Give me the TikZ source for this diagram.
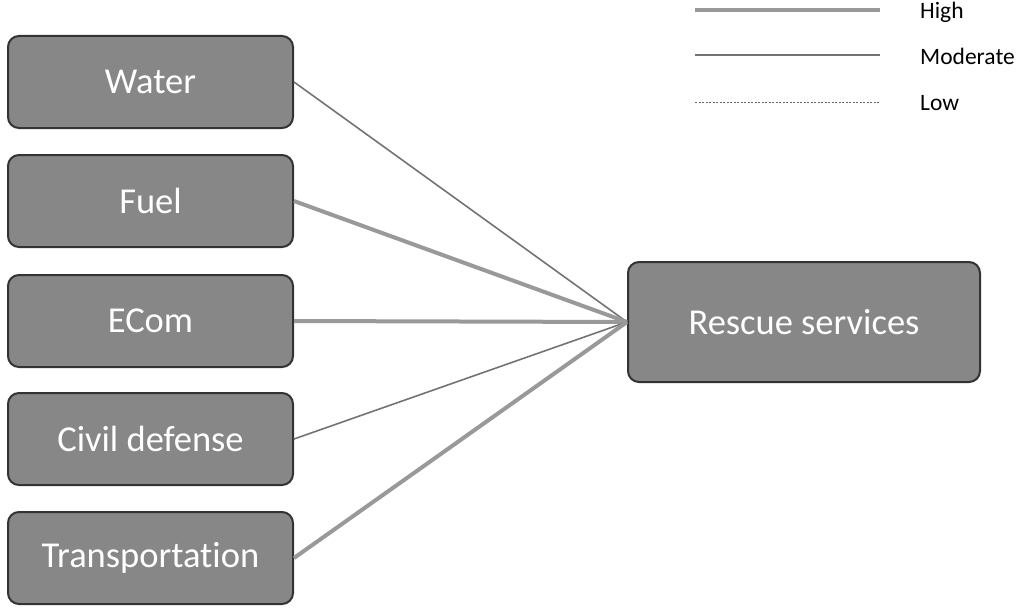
\documentclass[tikz,border=0pt]{standalone}
\usepackage{fontspec}
\setmainfont{Carlito}[Ligatures={NoCommon,NoRequired,NoContextual}]
\begin{document}
\begin{tikzpicture}[x=1pt,y=-1pt,
  box/.style={draw=black!80,line width=2pt,fill=black!47,rounded corners=11pt,
    text=white,font=\fontsize{36.5}{40}\selectfont,inner sep=0pt,
    minimum width=285pt,minimum height=92pt},
  high/.style={draw=black!40,line width=4pt},
  moderate/.style={draw=black!55,line width=1.6pt},
  low/.style={draw=black!60,line width=0.8pt,dash pattern=on 2pt off 1.5pt},
  legtext/.style={anchor=west,font=\fontsize{23.5}{28}\selectfont,inner sep=0pt}]
\useasboundingbox (0,0) rectangle (1016,607);
\node[box] (water) at (150.5,82) {Water};
\node[box] (fuel) at (150.5,201) {Fuel};
\node[box] (ecom) at (150.5,321) {ECom};
\node[box] (civil) at (150.5,439) {Civil defense};
\node[box] (trans) at (150.5,558) {Transportation};
\node[box,minimum width=352pt,minimum height=120pt] (rescue) at (804,322) {Rescue services};
\draw[moderate] (water.east) -- (rescue.west);
\draw[high] (fuel.east) -- (rescue.west);
\draw[high] (ecom.east) -- (rescue.west);
\draw[moderate] (civil.east) -- (rescue.west);
\draw[high] (trans.east) -- (rescue.west);
% legend
\coordinate (h1) at (695,10); \coordinate (h2) at (880,10);
\coordinate (m1) at (695,55); \coordinate (m2) at (880,55);
\coordinate (l1) at (695,102); \coordinate (l2) at (880,102);
\draw[high] (h1) -- (h2);
\draw[moderate] (m1) -- (m2);
\draw[low] (l1) -- (l2);
\node[legtext] (lh) at (920,12) {High};
\node[legtext] (lm) at (920,56) {Moderate};
\node[legtext] (ll) at (920,103) {Low};
\end{tikzpicture}
\end{document}
